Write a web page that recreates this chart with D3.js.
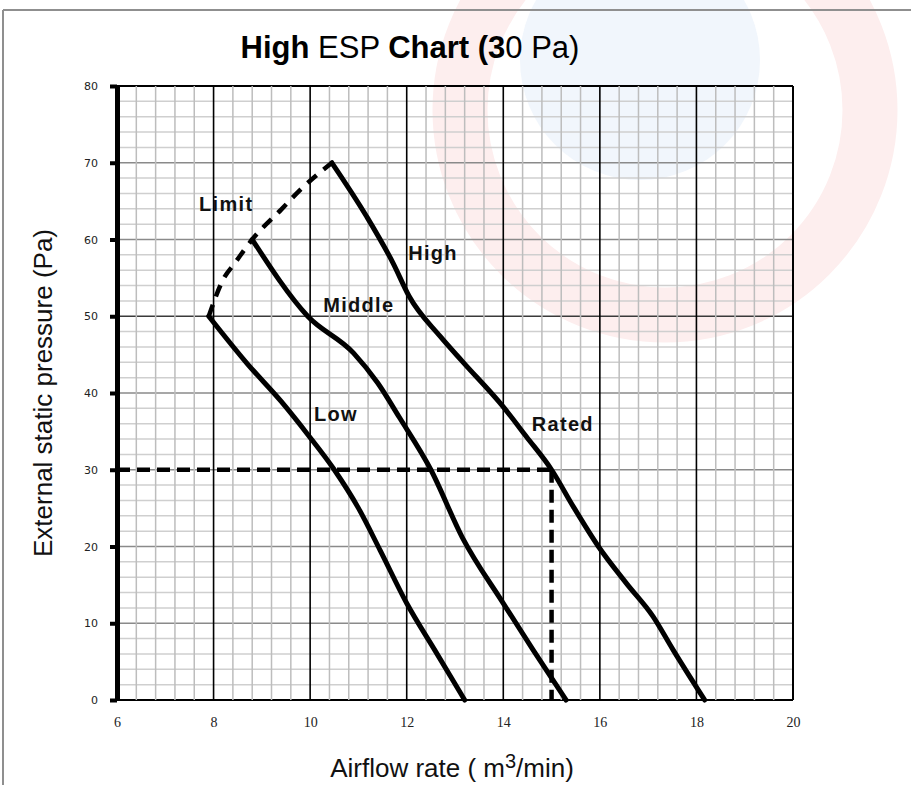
<!DOCTYPE html>
<html>
<head>
<meta charset="utf-8">
<script src="https://cdn.jsdelivr.net/npm/d3@7"></script>
<style>
  html, body { margin: 0; padding: 0; background: #fff; }
  svg { display: block; }
</style>
</head>
<body>
<svg id="chart" width="911" height="785"></svg>
<script>
// ---- data ----
const xTicks = [6, 8, 10, 12, 14, 16, 18, 20];
const yTicks = [0, 10, 20, 30, 40, 50, 60, 70, 80];

const lowX = [7.9, 8.7, 9.4, 9.95, 10.5, 11.0, 11.45, 12.0, 12.6, 13.2];
const lowY = [50, 43.8, 38.9, 34.6, 30, 25, 19.5, 12.6, 6.3, 0];

const middleX = [8.8, 9.95, 10.9, 11.4, 11.85, 12.5, 13.15, 14.0, 14.62, 15.3];
const middleY = [60, 50, 45.2, 41.3, 36.8, 30, 21.2, 12.6, 6.5, 0];

const highX = [10.45, 11.17, 11.72, 12.05, 12.69, 13.17, 14.0, 14.48, 15.0, 15.45, 15.97, 16.55, 17.1, 17.52, 18.17];
const highY = [70, 63, 56.9, 52.6, 47.4, 44.0, 38.2, 34.3, 30, 25.2, 20, 15.2, 10.9, 6.5, 0];

const limitX = [7.9, 8.2, 8.45, 8.8, 9.4, 9.8, 10.45];
const limitY = [50, 54.8, 57, 60, 63.9, 66.5, 70];

const ratedX = 15;
const ratedY = 30;

const curveLabels = ["Limit", "High", "Middle", "Low", "Rated"];
const labelX = [7.7, 12.03, 10.27, 10.08, 14.59];
const labelY = [63.7, 57.3, 50.6, 36.4, 35.0];

// ---- layout ----
const svg = d3.select("#chart");
const x = d3.scaleLinear().domain([6, 20]).range([117, 793]);
const y = d3.scaleLinear().domain([0, 80]).range([700, 86]);

// faint watermark decoration
const wm = svg.append("g");
wm.append("circle").attr("cx", 665).attr("cy", 110).attr("r", 205)
  .attr("fill", "none").attr("stroke", "#fdeeee").attr("stroke-width", 55);
wm.append("circle").attr("cx", 640).attr("cy", 60).attr("r", 120)
  .attr("fill", "#f1f6fc");

// page frame
svg.append("line").attr("x1", 3).attr("x2", 911).attr("y1", 10).attr("y2", 10)
  .attr("stroke", "#8f8f8f").attr("stroke-width", 2);
svg.append("line").attr("x1", 3).attr("x2", 3).attr("y1", 10).attr("y2", 785)
  .attr("stroke", "#8f8f8f").attr("stroke-width", 2);

// title
const title = svg.append("text").attr("x", 410).attr("y", 58)
  .attr("text-anchor", "middle")
  .attr("font-family", "Liberation Sans, Arial, sans-serif")
  .attr("font-size", 31).attr("fill", "#000");
title.append("tspan").attr("font-weight", "bold").text("High");
title.append("tspan").text(" ESP ");
title.append("tspan").attr("font-weight", "bold").text("Chart (3");
title.append("tspan").text("0 Pa)");

// grid
const g = svg.append("g");
const hLines = d3.range(0, 41).map(i => i * 2);
g.selectAll("line.h").data(hLines).join("line")
  .attr("x1", x(6)).attr("x2", x(20))
  .attr("y1", d => y(d)).attr("y2", d => y(d))
  .attr("stroke", d => d === 0 || d === 80 ? "#000" : d === 50 ? "#3a3a3a" : d % 10 === 0 ? "#8a8a8a" : "#cfcfcf")
  .attr("stroke-width", d => d === 0 || d === 80 ? 2 : 1.5);

const vLines = d3.range(0, 36).map(i => +(6 + i * 0.4).toFixed(1));
const isMajor = d => Math.abs(d - Math.round(d)) < 1e-6 && Math.round(d) % 2 === 0;
g.selectAll("line.v").data(vLines).join("line")
  .attr("y1", y(0)).attr("y2", y(80))
  .attr("x1", d => x(d)).attr("x2", d => x(d))
  .attr("stroke", d => isMajor(d) ? "#000" : "#bdbdbd")
  .attr("stroke-width", d => isMajor(d) ? 1.6 : 1.5);

// axes
const yAxis = d3.axisLeft(y).tickValues(yTicks).tickSize(7).tickPadding(12).tickSizeOuter(0);
const ya = svg.append("g").attr("transform", `translate(${x(6)},0)`).call(yAxis);
ya.select(".domain").attr("stroke", "#000").attr("stroke-width", 5);
ya.selectAll(".tick line").attr("stroke", "#000").attr("stroke-width", 4);
ya.selectAll(".tick text").attr("font-family", "DejaVu Sans, sans-serif").attr("font-size", 11).attr("fill", "#222");

const xAxis = d3.axisBottom(x).tickValues(xTicks).tickSize(0).tickPadding(17);
const xa = svg.append("g").attr("transform", `translate(0,${y(0)})`).call(xAxis);
xa.select(".domain").remove();
xa.selectAll(".tick text").attr("font-family", "Liberation Serif, serif").attr("font-size", 14).attr("fill", "#222");

// right border
svg.append("line").attr("x1", x(20)).attr("x2", x(20)).attr("y1", y(0)).attr("y2", y(80))
  .attr("stroke", "#000").attr("stroke-width", 2);

// axis titles
svg.append("text").attr("transform", `translate(52,${(y(0) + y(80)) / 2}) rotate(-90)`)
  .attr("text-anchor", "middle")
  .attr("font-family", "Liberation Sans, Arial, sans-serif").attr("font-size", 26).attr("fill", "#111")
  .text("External static pressure  (Pa)");

const xt = svg.append("text").attr("x", 452).attr("y", 777).attr("text-anchor", "middle")
  .attr("font-family", "Liberation Sans, Arial, sans-serif").attr("font-size", 26).attr("fill", "#111");
xt.append("tspan").text("Airflow rate ( m");
xt.append("tspan").attr("font-size", 20).attr("dy", -9).text("3");
xt.append("tspan").attr("dy", 9).text("/min)");

// curves
const line = d3.line().x(d => x(d[0])).y(d => y(d[1])).curve(d3.curveMonotoneX);
const zip = (a, b) => a.map((v, i) => [v, b[i]]);

const curves = svg.append("g").attr("fill", "none").attr("stroke", "#000");
[[lowX, lowY], [middleX, middleY], [highX, highY]].forEach(([xs, ys]) => {
  curves.append("path").attr("d", line(zip(xs, ys)))
    .attr("stroke-width", 5).attr("stroke-linecap", "round").attr("stroke-linejoin", "round");
});
curves.append("path").attr("d", line(zip(limitX, limitY)))
  .attr("stroke-width", 4.5).attr("stroke-dasharray", "12,9");

// rated dashed guides
curves.append("path").attr("d", d3.line()([[x(6), y(ratedY)], [x(ratedX), y(ratedY)]]))
  .attr("stroke-width", 4.5).attr("stroke-dasharray", "13,7");
curves.append("path").attr("d", d3.line()([[x(ratedX), y(ratedY)], [x(ratedX), y(0)]]))
  .attr("stroke-width", 4.5).attr("stroke-dasharray", "13,7");

// labels
svg.append("g").selectAll("text").data(curveLabels).join("text")
  .attr("x", (d, i) => x(labelX[i])).attr("y", (d, i) => y(labelY[i]))
  .attr("font-family", "Liberation Sans, Arial, sans-serif").attr("font-weight", "bold")
  .attr("font-size", 20).attr("letter-spacing", 1.3).attr("fill", "#111")
  .text(d => d);
</script>
</body>
</html>
